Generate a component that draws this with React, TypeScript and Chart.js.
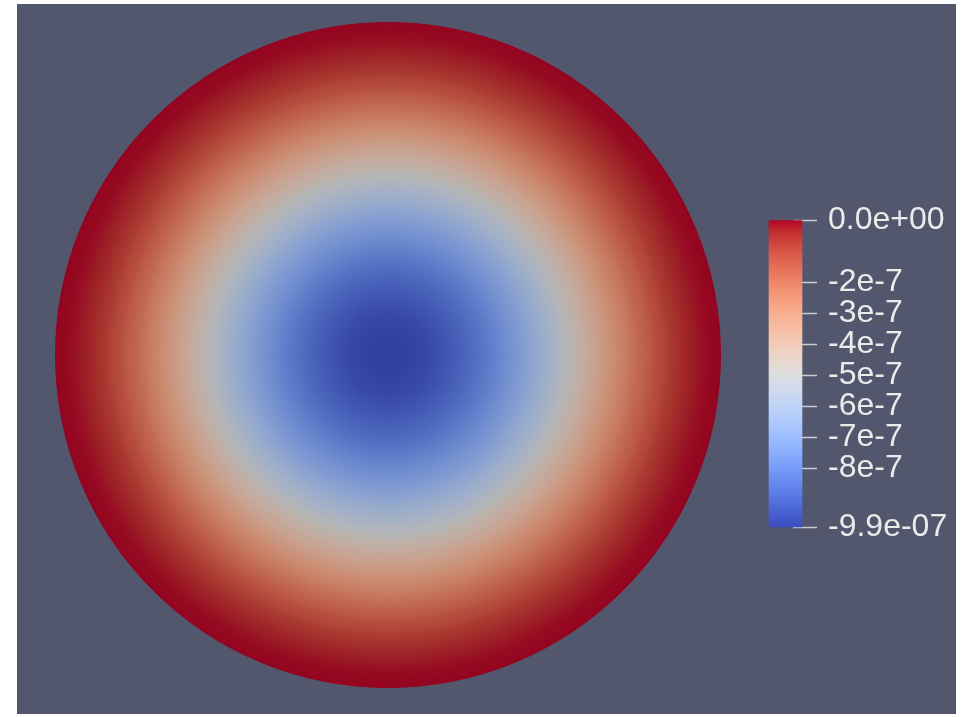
import React, { useEffect, useRef } from "react";
import { Chart, registerables } from "chart.js";

Chart.register(...registerables);

// ---- data -----------------------------------------------------------------
// radial position (fraction of the disk radius) where the field was sampled
const radialPositions = [
  0, 0.05, 0.1, 0.15, 0.2, 0.25, 0.3, 0.35, 0.4, 0.45, 0.5,
  0.55, 0.6, 0.65, 0.7, 0.75, 0.8, 0.85, 0.9, 0.95, 1.0,
];
// field value at those positions (estimated from the colours)
const fieldValues = [
  -9.9e-7, -9.85e-7, -9.7e-7, -9.45e-7, -9.1e-7, -8.7e-7, -8.2e-7, -7.6e-7,
  -7.0e-7, -6.3e-7, -5.6e-7, -4.8e-7, -4.05e-7, -3.3e-7, -2.6e-7, -1.9e-7,
  -1.3e-7, -0.75e-7, -0.35e-7, -0.1e-7, 0,
];
// colour legend range and ticks
const rangeMin = -9.9e-7;
const rangeMax = 0;
const colorbarTicks = [-9.9e-7, -8e-7, -7e-7, -6e-7, -5e-7, -4e-7, -3e-7, -2e-7, 0];
const colorbarLabels = ["-9.9e-07", "-8e-7", "-7e-7", "-6e-7", "-5e-7", "-4e-7", "-3e-7", "-2e-7", "0.0e+00"];

// ---- style -------------------------------------------------------------------
const BG = "#52576e";
const SHADE = 0.82; // surface lighting on the disk
// Cool to Warm lookup (blue -> red)
const coolWarm: number[][] = [
  [59, 76, 192], [68, 90, 204], [77, 104, 215], [87, 117, 225], [98, 130, 234],
  [108, 142, 241], [119, 154, 247], [130, 165, 251], [141, 176, 254], [152, 185, 255],
  [163, 194, 255], [174, 201, 253], [184, 208, 249], [194, 213, 244], [204, 217, 238],
  [213, 219, 230], [221, 221, 221], [229, 216, 209], [236, 211, 197], [241, 204, 185],
  [245, 196, 173], [247, 187, 160], [247, 177, 148], [247, 166, 135], [244, 154, 123],
  [241, 141, 111], [236, 127, 99], [229, 112, 88], [222, 96, 77], [213, 80, 66],
  [203, 62, 56], [192, 40, 47], [180, 4, 38],
];

function mapT(t: number): number[] {
  const c = Math.min(1, Math.max(0, t)) * (coolWarm.length - 1);
  const i = Math.min(coolWarm.length - 2, Math.floor(c));
  const f = c - i;
  const a = coolWarm[i];
  const b = coolWarm[i + 1];
  return [a[0] + (b[0] - a[0]) * f, a[1] + (b[1] - a[1]) * f, a[2] + (b[2] - a[2]) * f];
}

function valueColor(v: number, k: number): string {
  const t = (v - rangeMin) / (rangeMax - rangeMin);
  const c = mapT(t);
  return `rgb(${Math.round(c[0] * k)},${Math.round(c[1] * k)},${Math.round(c[2] * k)})`;
}

function ringFill(ctx: any, vIn: number, vOut: number) {
  const chart = ctx.chart;
  const area = chart.chartArea;
  const fallback = valueColor((vIn + vOut) / 2, SHADE);
  const meta = chart.getDatasetMeta(ctx.datasetIndex);
  const ctrl: any = meta && meta.controller;
  if (!area || !ctrl || !isFinite(ctrl.outerRadius) || !isFinite(ctrl.innerRadius)) return fallback;
  const cx = (area.left + area.right) / 2 + (chart.offsetX || 0);
  const cy = (area.top + area.bottom) / 2 + (chart.offsetY || 0);
  const r0 = Math.max(0, ctrl.innerRadius);
  const r1 = Math.max(r0 + 0.01, ctrl.outerRadius);
  const g = chart.ctx.createRadialGradient(cx, cy, r0, cx, cy, r1);
  const steps = 6;
  for (let j = 0; j <= steps; j++) {
    const t = j / steps;
    g.addColorStop(t, valueColor(vIn + (vOut - vIn) * t, SHADE));
  }
  return g;
}

function barFill(ctx: any) {
  const chart = ctx.chart;
  const area = chart.chartArea;
  if (!area) return valueColor(-5e-7, 1);
  const ys = chart.scales.y;
  const yTop = ys.getPixelForValue(rangeMax);
  const yBot = ys.getPixelForValue(rangeMin);
  const g = chart.ctx.createLinearGradient(0, yBot, 0, yTop);
  for (let i = 0; i < coolWarm.length; i++) {
    const t = i / (coolWarm.length - 1);
    const c = coolWarm[i];
    g.addColorStop(t, `rgb(${c[0]},${c[1]},${c[2]})`);
  }
  return g;
}

export default function App() {
  const diskRef = useRef<HTMLCanvasElement>(null);
  const barRef = useRef<HTMLCanvasElement>(null);

  useEffect(() => {
    if (!diskRef.current || !barRef.current) return;

    // rings from the outside inwards (dataset 0 is the outermost ring)
    const datasets: any[] = [];
    for (let i = radialPositions.length - 1; i > 0; i--) {
      const vIn = fieldValues[i - 1];
      const vOut = fieldValues[i];
      datasets.push({
        data: [1],
        weight: radialPositions[i] - radialPositions[i - 1],
        backgroundColor: (c: any) => ringFill(c, vIn, vOut),
        borderColor: (c: any) => ringFill(c, vIn, vOut),
        borderWidth: 1,
        hoverOffset: 0,
        offset: 0,
      });
    }

    const disk = new Chart(diskRef.current, {
      type: "doughnut",
      data: { labels: ["field"], datasets },
      options: {
        responsive: false,
        maintainAspectRatio: false,
        animation: false,
        events: [],
        cutout: 0,
        layout: { padding: 0 },
        plugins: { legend: { display: false }, tooltip: { enabled: false } },
      } as any,
    });

    const bar = new Chart(barRef.current, {
      type: "bar",
      data: {
        labels: ["field"],
        datasets: [
          {
            data: [[rangeMin, rangeMax]] as any,
            backgroundColor: barFill as any,
            borderWidth: 0,
            barThickness: 33,
            clip: false as any,
          },
        ],
      },
      options: {
        responsive: false,
        maintainAspectRatio: false,
        animation: false,
        events: [],
        layout: { padding: { left: 30, right: 0, top: 27, bottom: 33 } },
        plugins: { legend: { display: false }, tooltip: { enabled: false } },
        scales: {
          x: { display: false, offset: true },
          y: {
            position: "right",
            z: 1,
            min: rangeMin,
            max: rangeMax,
            afterBuildTicks: (s: any) => {
              s.ticks = colorbarTicks.map((v) => ({ value: v }));
            },
            afterFit: (s: any) => {
              s.width = 163;
            },
            grid: {
              drawOnChartArea: false,
              drawTicks: true,
              tickLength: 24,
              tickColor: "rgba(225,225,225,0.85)",
              tickWidth: 1.5,
            },
            border: { display: false },
            ticks: {
              autoSkip: false,
              padding: 11,
              color: "#ebebeb",
              font: { family: "'Liberation Sans', Arial, sans-serif", size: 32 },
              callback: (v: any) => {
                const idx = colorbarTicks.findIndex((t) => Math.abs(t - Number(v)) < 1e-12);
                return idx >= 0 ? colorbarLabels[idx] : "";
              },
            },
          },
        },
      } as any,
    });

    return () => {
      disk.destroy();
      bar.destroy();
    };
  }, []);

  return (
    <div
      style={{
        position: "absolute",
        left: 17,
        top: 4,
        width: 939,
        height: 710,
        background: BG,
        overflow: "hidden",
      }}
    >
      <canvas
        ref={diskRef}
        width={666}
        height={666}
        style={{ position: "absolute", left: 38, top: 18, width: 666, height: 666 }}
      />
      <canvas
        ref={barRef}
        width={208}
        height={370}
        style={{ position: "absolute", left: 731, top: 186, width: 208, height: 370 }}
      />
    </div>
  );
}
